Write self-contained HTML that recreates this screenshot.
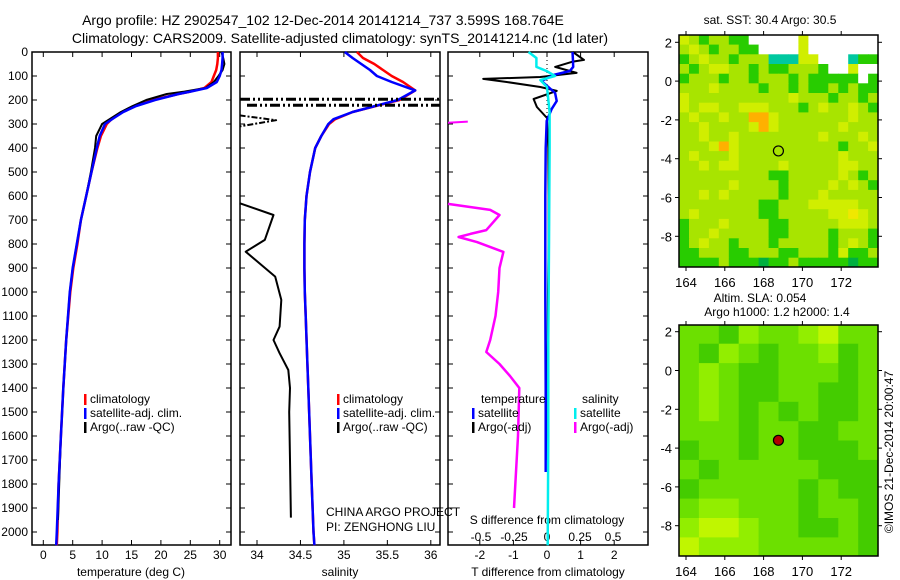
<!DOCTYPE html>
<html><head><meta charset="utf-8"><style>
html,body{margin:0;padding:0;background:#fff}
svg{display:block;font-family:"Liberation Sans",sans-serif}
</style></head><body>
<svg id="chart" width="900" height="580" viewBox="0 0 900 580" xmlns="http://www.w3.org/2000/svg">
<text x="323" y="25" font-size="14" text-anchor="middle">Argo profile: HZ 2902547_102 12-Dec-2014 20141214_737 3.599S 168.764E</text>
<text x="340" y="43" font-size="14" text-anchor="middle">Climatology: CARS2009. Satellite-adjusted climatology: synTS_20141214.nc (1d later)</text>
<g id="g"></g>
</svg>
<script>
// ---- profile data ----
const depths = [0,25,50,75,100,125,150,165,175,200,225,250,275,300,350,400,500,600,700,800,900,1000,1200,1400,1600,1800,2000,2055];
const tempClim = [29.7,29.7,29.6,29.4,29.0,28.6,27.4,25,23,18.6,15.6,13.4,11.8,10.8,9.8,9.2,8.2,7.3,6.4,5.8,5.1,4.6,3.9,3.4,3.0,2.6,2.4,2.3];
const tempSat  = [30.5,30.5,30.4,30.3,30.0,29.5,27.8,25,23,19,15.8,13.6,12,10.5,9.6,9.1,8.2,7.3,6.4,5.7,5.0,4.5,3.9,3.4,3.0,2.6,2.3,2.2];
const argoDepths = [0,25,50,75,100,125,150,165,175,200,225,250,275,300,350,400,500,600,700,800,900,1000,1200,1400,1600,1800,1950];
const tempArgo = [30.3,30.6,30.8,30.5,29.8,29.0,27.6,24,21,17.5,15.2,13.2,11.6,10.0,9.0,8.8,8.1,7.3,6.4,5.7,5.0,4.5,3.9,3.4,3.0,2.7,2.5];
const salDepths = [0,25,50,75,100,125,160,200,250,280,300,350,400,500,600,700,800,900,1000,1100,1300,1400,1600,1800,2000,2055];
const salClim = [35.15,35.22,35.35,35.45,35.55,35.68,35.82,35.64,35.1,34.9,34.83,34.74,34.67,34.61,34.57,34.55,34.545,34.545,34.55,34.56,34.58,34.59,34.61,34.63,34.65,34.66];
const salSat  = [35.01,35.1,35.2,35.3,35.38,35.55,35.82,35.62,35.1,34.88,34.82,34.74,34.67,34.61,34.57,34.55,34.545,34.545,34.55,34.56,34.58,34.59,34.61,34.63,34.65,34.66];
const salArgoDepths = [630,679,783,832,887,936,1033,1144,1200,1255,1325,1400,1500,1700,1940];
const salArgo = [33.8,34.19,34.09,33.87,34.05,34.21,34.28,34.26,34.19,34.26,34.36,34.38,34.37,34.38,34.39];
const salArgoShallowDepths = [264,284,310];
const salArgoShallow = [33.8,34.22,33.8];
const badSalDepths = [197,222];
const dTDepths = [0,33,40,62,87,104,112,125,146,162,196,229,275,400,600,800,1000,1200,1400,1700];
const dTArgo = [0.77,1.1,0.77,0.24,0.88,-0.2,-1.9,-1.2,-0.2,0.29,-0.4,-0.3,0,0.04,0.05,0.05,0.03,0.02,0.0,0.0];
const dTSatDepths = [0,30,62,79,96,121,137,171,204,237,287,400,600,1000,1400,1750];
const dTSat = [0.76,0.77,0.78,0.68,0.19,-0.16,-0.03,0.24,0.29,0.14,-0.01,-0.04,-0.05,-0.05,-0.04,-0.04];
const dSSatDepths = [0,25,62,80,100,117,146,250,400,800,1200,1600,2055];
const dSSat = [-0.14,-0.08,-0.08,0,0.06,-0.05,0,0.02,0.02,0.015,0.01,0.01,0.005];
const dSArgoDepths = [633,658,679,717,742,758,771,792,833,900,1000,1100,1200,1250,1300,1350,1400,1600,1900];
const dSArgo = [-0.75,-0.43,-0.36,-0.42,-0.46,-0.58,-0.67,-0.53,-0.33,-0.36,-0.37,-0.39,-0.43,-0.46,-0.36,-0.28,-0.21,-0.22,-0.25];
const dSArgoShallowDepths = [290,295];
const dSArgo2 = [-0.6,-0.75];
const tempTicks = [0,5,10,15,20,25,30];
const salTicks = [34,34.5,35,35.5,36];
const dTTicks = [-2,-1,0,1,2];
const dSTicks = [-0.5,-0.25,0,0.25,0.5];
const depthTicks = [0,100,200,300,400,500,600,700,800,900,1000,1100,1200,1300,1400,1500,1600,1700,1800,1900,2000];
// ---- map data ----
const sstRows = [
"ylgllggwwwwwywwwwwww","lylgllggwwwwywwwwwww","glyllglllcccyywwwcgg","lglyyllglgglllgwwyww",
"glllgllglllglgggggwg","lllyllllgllglgglglgg","yllllllllllylllgllgl","ylyyllyyylllglyllylg",
"lyllyllooylllllllyll","llyllllyoyllllllylll","llyllyllllllllylllyl","lllyoyllllllllllglly",
"lylllyllllllllllylll","llylyyllllylllllyyll","lllllllllgglllllylgl","lllllyllllgllllylylg",
"llylylllllglllylllll","llllllllgglllyyyyyll","lyllllllgglllllyyYyl","glllyllllgglllllyyyl",
"gllylllllggllllglllg","glyllglllglllllglylg","gglllgglllgglllgyggl","gggglgggGgglgggggGgg"];
const slaRows = ["bbacbbcdbb","bacbabbcab","bcbaabbbab","bcbaabbaab","bcbababaab","bbbabbaabb",
"abbabbaaab","babbbbbaaa","abbbbbabaa","bccbbbabba","cddcbbaaba","dcccbbbbba"];
const mapLonTicks = [164,166,168,170,172];
const mapLatTicks = [2,0,-2,-4,-6,-8];
const floatLon = 168.764, floatLat = -3.599;

const NS="http://www.w3.org/2000/svg";
const G=document.getElementById('g');
function mk(tag,attrs,parent){const e=document.createElementNS(NS,tag);for(const k in attrs)e.setAttribute(k,attrs[k]);(parent||G).appendChild(e);return e;}
function txt(x,y,s,size,anchor,parent){const e=mk('text',{x:x,y:y,'font-size':size||12,'text-anchor':anchor||'middle'},parent);e.textContent=s;return e;}
const TOP=52,BOT=545;
const yD=d=>TOP+d*0.24;
const xT=t=>43.3+t*5.88;
const xS=s=>257+(s-34)*86.9;
const xDT=v=>547+v*33.6;
const xDS=v=>547+v*132;
function line(xs,ds,fx,color,w,name,dash){
  let p=xs.map((v,i)=>(i?'L':'M')+fx(v).toFixed(1)+','+yD(ds[i]).toFixed(1)).join('');
  const e=mk('path',{d:p,fill:'none',stroke:color,'stroke-width':w,'stroke-linejoin':'round'});
  if(dash)e.setAttribute('stroke-dasharray',dash);
  
  
  return e;
}
const panels=[[32,231],[240,440],[448,648]];
panels.forEach((p,i)=>{
  const r=mk('rect',{x:p[0],y:TOP,width:p[1]-p[0],height:BOT-TOP,fill:'none',stroke:'#000','stroke-width':1.5});
  
  
  depthTicks.forEach(d=>{
    mk('line',{x1:p[0],x2:p[0]+5,y1:yD(d),y2:yD(d),stroke:'#000'});
    mk('line',{x1:p[1],x2:p[1]-5,y1:yD(d),y2:yD(d),stroke:'#000'});
  });
});
depthTicks.forEach(d=>{const t=txt(28,yD(d)+4,String(d),12,'end');
  
  });
function xticks(ticks,fx,y,lab){ticks.forEach(v=>{
  mk('line',{x1:fx(v),x2:fx(v),y1:BOT,y2:BOT-5,stroke:'#000'});
  mk('line',{x1:fx(v),x2:fx(v),y1:TOP,y2:TOP+5,stroke:'#000'});
  const t=txt(fx(v),y,String(v),12);
  
  });}
xticks(tempTicks,xT,559,'temperature-tick-label');
xticks(salTicks,xS,559,'salinity-tick-label');
xticks(dTTicks,xDT,559,'t-diff-tick-label');
dSTicks.forEach(v=>{const t=txt(xDS(v),541,String(v),12);
  
  });
[['temperature (deg C)',131,'temperature-axis-title'],['salinity',340,'salinity-axis-title'],['T difference from climatology',548,'t-diff-axis-title']].forEach(a=>{
  const t=txt(a[1],576,a[0],12);});
const st=txt(547,524,'S difference from climatology',12);


// series panel 1
line(tempClim,depths,xT,'#f00',2.5,'temp-climatology-line');
line(tempArgo,argoDepths,xT,'#000',2,'temp-argo-line');
line(tempSat,depths,xT,'#00f',2.5,'temp-satellite-line');
// panel 2
line(salClim,salDepths,xS,'#f00',2.5,'sal-climatology-line');
line(salSat,salDepths,xS,'#00f',2.5,'sal-satellite-line');
line(salArgo,salArgoDepths,xS,'#000',2,'sal-argo-line');
line(salArgoShallow,salArgoShallowDepths,xS,'#000',2,'sal-argo-shallow-line','6,2,2,2');
badSalDepths.forEach((d,i)=>{
  const e=mk('line',{x1:i?247:240,x2:440,y1:yD(d),y2:yD(d),stroke:'#000','stroke-width':3,'stroke-dasharray':'10,3,2,3,2,3'});
  
  
});
// panel 3
const z=mk('line',{x1:547,x2:547,y1:TOP,y2:yD(380),stroke:'#000','stroke-dasharray':'1,3'});


line(dSArgo2,dSArgoShallowDepths,xDS,'#f0f',2,'sdiff-argo-shallow-line');
line(dSArgo,dSArgoDepths,xDS,'#f0f',2.5,'sdiff-argo-line');
line(dTArgo,dTDepths,xDT,'#000',2,'tdiff-argo-line');
line(dTSat,dTSatDepths,xDT,'#00f',2.5,'tdiff-satellite-line');
line(dSSat,dSSatDepths,xDS,'#0ee',2.5,'sdiff-satellite-line');
// legends
function leg(x,y,color,label,name){
  const r=mk('rect',{x:x,y:y-9,width:2.5,height:11,fill:color});
  
  
  const t=txt(x+6,y,label,12,'start');
  
  
}
[[84,'p1'],[337,'p2']].forEach(a=>{
  leg(a[0],403,'#f00','climatology',a[1]+'-legend-climatology');
  leg(a[0],417,'#00f','satellite-adj. clim.',a[1]+'-legend-satellite');
  leg(a[0],431,'#000','Argo(..raw -QC)',a[1]+'-legend-argo');
});
let t1=txt(481,403,'temperature',12,'start');
let t2=txt(582,403,'salinity',12,'start');
leg(472,417,'#00f','satellite','p3-legend-t-satellite');
leg(472,431,'#000','Argo(-adj)','p3-legend-t-argo');
leg(574,417,'#0ee','satellite','p3-legend-s-satellite');
leg(574,431,'#f0f','Argo(-adj)','p3-legend-s-argo');
let c1=txt(326,516,'CHINA ARGO PROJECT',12,'start');
let c2=txt(326,531,'PI: ZENGHONG LIU',12,'start');
// ---- maps ----
const lonX=l=>686+(l-164)*19.4;
const LON0=163.64,LON1=173.9,LAT0=2.38,LAT1=-9.6;
function map(top,bottom,rows,colors,name,lat2y){
  const latY=l=>lat2y+(2-l)*19.4;
  const nr=rows.length,nc=rows[0].length;
  const dLon=(LON1-LON0)/nc,dLat=(LAT0-LAT1)/nr;
  const grp=mk('g',{});
  
  
  rows.forEach((row,ri)=>{for(let ci=0;ci<nc;ci++){
    const ch=row[ci]||row[row.length-1];
    const x0=lonX(LON0+ci*dLon),x1=lonX(LON0+(ci+1)*dLon);
    const y0=Math.max(top,latY(LAT0-ri*dLat)),y1=Math.min(bottom,latY(LAT0-(ri+1)*dLat));
    const c=mk('rect',{x:x0.toFixed(1),y:y0.toFixed(1),width:(x1-x0+0.5).toFixed(1),height:(y1-y0+0.5).toFixed(1),fill:colors[ch]||'#fff'},grp);
    
    
  }});
  const f=mk('rect',{x:679,y:top,width:199,height:bottom-top,fill:'none',stroke:'#000','stroke-width':1.5});
  
  
  mapLonTicks.forEach(l=>{
    mk('line',{x1:lonX(l),x2:lonX(l),y1:top,y2:top-4,stroke:'#000'});
    mk('line',{x1:lonX(l),x2:lonX(l),y1:bottom,y2:bottom+4,stroke:'#000'});
    const t=txt(lonX(l),bottom+20,String(l),13);
    
    
  });
  mapLatTicks.forEach(l=>{
    mk('line',{x1:679,x2:675,y1:latY(l),y2:latY(l),stroke:'#000'});
    mk('line',{x1:878,x2:882,y1:latY(l),y2:latY(l),stroke:'#000'});
    const t=txt(672,latY(l)+5,String(l),13,'end');
    
    
  });
  return latY;
}
const sstColors={g:'#28cc00',G:'#00b040',l:'#a8e400',y:'#d0ee00',Y:'#f0e800',o:'#ffb000',w:'#ffffff',c:'#00c8a0'};
const slaColors={a:'#44cc00',b:'#6ce000',c:'#92ee00',d:'#c0f600'};
const ly1=map(35,267,sstRows,sstColors,'sst-map',42.3);
const fm1=mk('circle',{cx:lonX(floatLon),cy:ly1(floatLat),r:5,fill:'none',stroke:'#000','stroke-width':1.2});


const ly2=map(325,556,slaRows,slaColors,'sla-map',331.7);
const fm2=mk('circle',{cx:lonX(floatLon),cy:ly2(floatLat),r:5,fill:'#b00000',stroke:'#000','stroke-width':1.2});


let m1=txt(770,24,'sat. SST: 30.4 Argo: 30.5',12);
let m2=txt(760,302,'Altim. SLA: 0.054',12);
let m3=txt(777,316,'Argo h1000: 1.2 h2000: 1.4',12);
let cr=txt(0,0,'©IMOS 21-Dec-2014 20:00:47',12);
cr.setAttribute('transform','translate(893,452) rotate(-90)');


</script>
</body></html>
